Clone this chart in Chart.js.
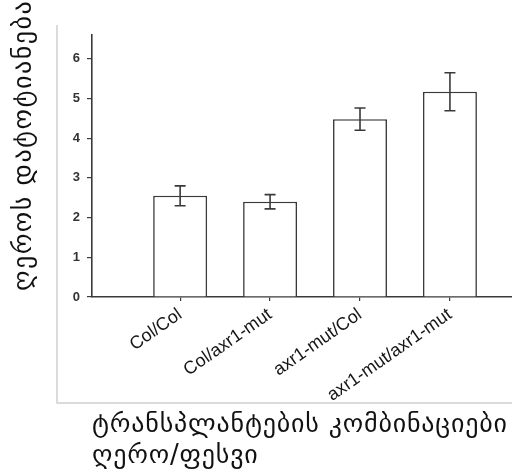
<!DOCTYPE html>
<html>
<head>
<meta charset="utf-8">
<script src="https://cdn.jsdelivr.net/npm/chart.js@4/dist/chart.umd.min.js"></script>
<style>
  html, body { margin: 0; padding: 0; background: #fff; }
  #wrap { width: 512px; height: 473px; }
</style>
</head>
<body>
<div id="wrap"><canvas id="barChart" width="512" height="473"></canvas></div>
<script>
// categories and values
const categories = ["Col/Col", "Col/axr1-mut", "axr1-mut/Col", "axr1-mut/axr1-mut"];
const means = [2.55, 2.40, 4.48, 5.17];
const errors = [0.25, 0.18, 0.28, 0.48];
const yTicks = [0, 1, 2, 3, 4, 5, 6];

const yTitle = "ღეროს დატოტიანება";
const xTitle = ["ტრანსპლანტების კომბინაციები", "ღერო/ფესვი"];

const axisColor = "#3a3a3a";

// error bars on top of each bar
const errorBarPlugin = {
    id: "errorBars",
    afterDatasetsDraw(chart) {
        const ctx = chart.ctx;
        const yScale = chart.scales.y;
        const meta = chart.getDatasetMeta(0);
        ctx.save();
        ctx.strokeStyle = axisColor;
        ctx.lineWidth = 1.6;
        meta.data.forEach((bar, i) => {
            const x = bar.x;
            const top = yScale.getPixelForValue(means[i] + errors[i]);
            const bottom = yScale.getPixelForValue(means[i] - errors[i]);
            const cap = 5.5;
            ctx.beginPath();
            ctx.moveTo(x, top);
            ctx.lineTo(x, bottom);
            ctx.moveTo(x - cap, top);
            ctx.lineTo(x + cap, top);
            ctx.moveTo(x - cap, bottom);
            ctx.lineTo(x + cap, bottom);
            ctx.stroke();
        });
        ctx.restore();
    },
};

// outer frame and the Georgian axis titles
const framePlugin = {
    id: "frame",
    beforeDraw(chart) {
        const ctx = chart.ctx;
        ctx.save();
        ctx.strokeStyle = "#cfcfcf";
        ctx.lineWidth = 1.5;
        ctx.beginPath();
        ctx.moveTo(57, 25);
        ctx.lineTo(57, 403);
        ctx.lineTo(512, 403);
        ctx.stroke();
        ctx.restore();
    },
    afterDraw(chart) {
        const ctx = chart.ctx;
        ctx.save();
        ctx.fillStyle = "#111";
        ctx.font = "26px 'DejaVu Sans'";
        ctx.textBaseline = "middle";
        ctx.textAlign = "left";

        ctx.save();
        ctx.letterSpacing = "1.5px";
        ctx.translate(24, 291);
        ctx.rotate(-Math.PI / 2);
        ctx.fillText(yTitle, 0, 0);
        ctx.restore();

        ctx.letterSpacing = "0.8px";
        xTitle.forEach((line, i) => {
            ctx.fillText(line, 92, 425 + i * 31);
        });
        ctx.restore();
    },
};

const ctx = document.getElementById("barChart").getContext("2d");

new Chart(ctx, {
    type: "bar",
    data: {
        datasets: [
            {
                data: means.map((v, i) => ({ x: i + 1, y: v })),
                backgroundColor: "#ffffff",
                borderColor: axisColor,
                borderWidth: 1.6,
                borderSkipped: "bottom",
                categoryPercentage: 1,
                barPercentage: 0.6,
            },
        ],
    },
    options: {
        responsive: false,
        animation: false,
        layout: { padding: { top: 35, right: 0, left: 0, bottom: 0 } },
        plugins: {
            legend: { display: false },
            tooltip: { enabled: false },
        },
        scales: {
            x: {
                type: "linear",
                min: 0.02,
                max: 4.69,
                offset: false,
                afterFit: (scale) => { scale.height = 176; },
                afterBuildTicks: (scale) => {
                    scale.ticks = categories.map((c, i) => ({ value: i + 1 }));
                },
                grid: {
                    offset: false,
                    drawOnChartArea: false,
                    drawTicks: true,
                    tickLength: 4,
                    color: axisColor,
                    lineWidth: 1.2,
                },
                border: { display: true, color: axisColor, width: 1.6 },
                ticks: {
                    autoSkip: false,
                    minRotation: 35,
                    maxRotation: 35,
                    padding: 3,
                    color: "#151515",
                    font: { family: "'Liberation Sans', Arial", size: 18 },
                    callback: (value, index) => categories[index],
                },
            },
            y: {
                min: 0,
                max: 6.6,
                afterFit: (scale) => { scale.width = 92; },
                afterBuildTicks: (scale) => {
                    scale.ticks = yTicks.map((v) => ({ value: v }));
                },
                grid: {
                    drawOnChartArea: false,
                    drawTicks: true,
                    tickLength: 5,
                    color: axisColor,
                    lineWidth: 1.2,
                },
                border: { display: true, color: axisColor, width: 1.6 },
                ticks: {
                    padding: 7,
                    color: "#333",
                    font: { family: "'Liberation Sans', Arial", size: 13, weight: "bold" },
                },
            },
        },
    },
    plugins: [errorBarPlugin, framePlugin],
});
</script>
</body>
</html>
